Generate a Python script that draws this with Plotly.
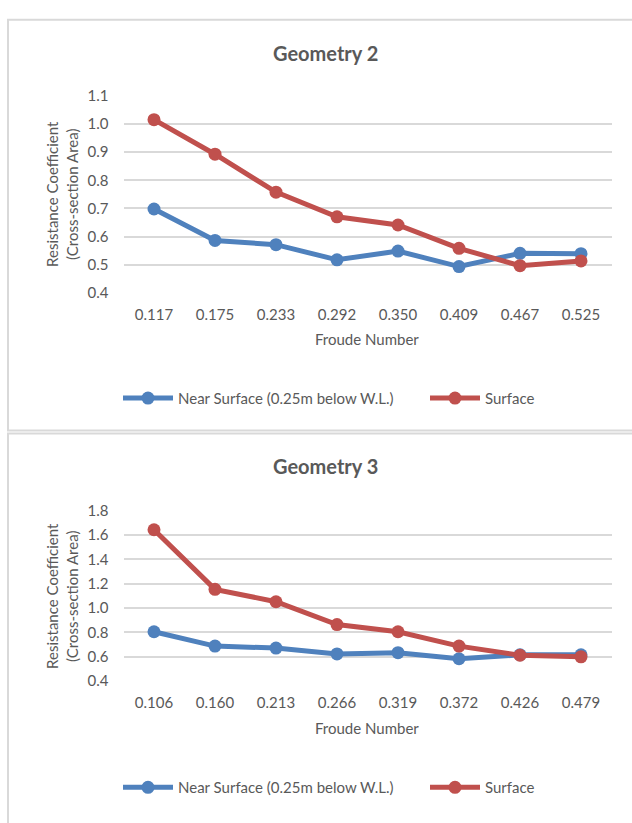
import plotly.graph_objects as go

W, H = 632, 823

# ---------------- data ----------------
froude_g2 = ["0.117", "0.175", "0.233", "0.292", "0.350", "0.409", "0.467", "0.525"]
near_g2 = [0.698, 0.586, 0.571, 0.517, 0.548, 0.493, 0.540, 0.539]
surf_g2 = [1.016, 0.893, 0.758, 0.670, 0.641, 0.558, 0.496, 0.513]

froude_g3 = ["0.106", "0.160", "0.213", "0.266", "0.319", "0.372", "0.426", "0.479"]
near_g3 = [0.805, 0.687, 0.671, 0.623, 0.633, 0.583, 0.615, 0.615]
surf_g3 = [1.644, 1.154, 1.052, 0.864, 0.805, 0.687, 0.612, 0.599]

series_names = ["Near Surface (0.25m below W.L.)", "Surface"]
titles = ["Geometry 2", "Geometry 3"]
y_title = "Resistance Coefficient<br>(Cross-section Area)"
x_title = "Froude Number"

BLUE = "#4F81BD"
RED = "#C0504D"
TXT = "#595959"
GRID = "#D9D9D9"
FONT = "Lato, Carlito, Calibri, sans-serif"
FS = 15


def px(x):
    return x / W


def py(y):
    return 1 - y / H


fig = go.Figure()

def add_series(xv, yv, name, color, xa, ya, lg):
    fig.add_trace(go.Scatter(x=xv, y=yv, name=name, mode="lines+markers", showlegend=True,
                             line=dict(color=color, width=5), marker=dict(size=13, color=color),
                             xaxis=xa, yaxis=ya, legend=lg))

add_series(froude_g2, near_g2, series_names[0], BLUE, "x", "y", "legend")
add_series(froude_g2, surf_g2, series_names[1], RED, "x", "y", "legend2")
add_series(froude_g3, near_g3, series_names[0], BLUE, "x2", "y2", "legend3")
add_series(froude_g3, surf_g3, series_names[1], RED, "x2", "y2", "legend4")

xdom = [px(123.5), px(611.5)]
common_x = dict(showgrid=False, zeroline=False, showline=False, ticks="",
                ticklabelstandoff=11, tickfont=dict(size=FS, color=TXT, family=FONT),
                range=[-0.5, 7.5], fixedrange=True)
common_y = dict(showgrid=True, gridcolor=GRID, gridwidth=1.5, zeroline=False, showline=False,
                ticks="", ticklabelstandoff=14, tickformat=".1f", fixedrange=True,
                tickfont=dict(size=FS, color=TXT, family=FONT))


def leg(x, y):
    return dict(orientation="h", xanchor="left", yanchor="middle", x=px(x), y=py(y),
                font=dict(size=FS, color=TXT, family=FONT), itemwidth=50,
                bgcolor="rgba(0,0,0,0)", itemclick=False, itemdoubleclick=False)


fig.update_layout(
    width=W, height=H,
    margin=dict(l=0, r=0, t=0, b=0),
    paper_bgcolor="white", plot_bgcolor="white",
    font=dict(family=FONT, color=TXT),
    showlegend=True,
    xaxis=dict(domain=xdom, anchor="y", **common_x),
    yaxis=dict(domain=[py(289), py(88)], anchor="x", range=[0.4, 1.1], dtick=0.1, **common_y),
    xaxis2=dict(domain=xdom, anchor="y2", **common_x),
    yaxis2=dict(domain=[py(686), py(512)], anchor="x2", range=[0.4, 1.8], dtick=0.2, **common_y),
    legend=leg(118, 397),
    legend2=leg(425, 397),
    legend3=leg(118, 795),
    legend4=leg(425, 795),
    shapes=[
        dict(type="rect", xref="paper", yref="paper", x0=px(8), x1=px(660), y0=py(430), y1=py(10),
             line=dict(color=GRID, width=2), fillcolor="rgba(0,0,0,0)", layer="below"),
        dict(type="rect", xref="paper", yref="paper", x0=px(8), x1=px(660), y0=-0.05, y1=py(433),
             line=dict(color=GRID, width=2), fillcolor="rgba(0,0,0,0)", layer="below"),
    ],
    annotations=[
        dict(text="<b>" + titles[0] + "</b>", x=px(325), y=py(44), xref="paper", yref="paper",
             showarrow=False, font=dict(size=20, color=TXT, family=FONT), xanchor="center", yanchor="middle"),
        dict(text="<b>" + titles[1] + "</b>", x=px(325), y=py(466), xref="paper", yref="paper",
             showarrow=False, font=dict(size=20, color=TXT, family=FONT), xanchor="center", yanchor="middle"),
        dict(text=x_title, x=px(367), y=py(336), xref="paper", yref="paper", showarrow=False,
             font=dict(size=FS, color=TXT, family=FONT), xanchor="center", yanchor="middle"),
        dict(text=x_title, x=px(367), y=py(734), xref="paper", yref="paper", showarrow=False,
             font=dict(size=FS, color=TXT, family=FONT), xanchor="center", yanchor="middle"),
        dict(text=y_title, x=px(62), y=py(188), xref="paper", yref="paper", showarrow=False,
             textangle=-90, font=dict(size=FS, color=TXT, family=FONT), xanchor="center", yanchor="middle"),
        dict(text=y_title, x=px(62), y=py(599), xref="paper", yref="paper", showarrow=False,
             textangle=-90, font=dict(size=FS, color=TXT, family=FONT), xanchor="center", yanchor="middle"),
    ],
)

fig.write_html("out.html", config={"displayModeBar": False},
               post_script="document.body.style.margin='0';")
